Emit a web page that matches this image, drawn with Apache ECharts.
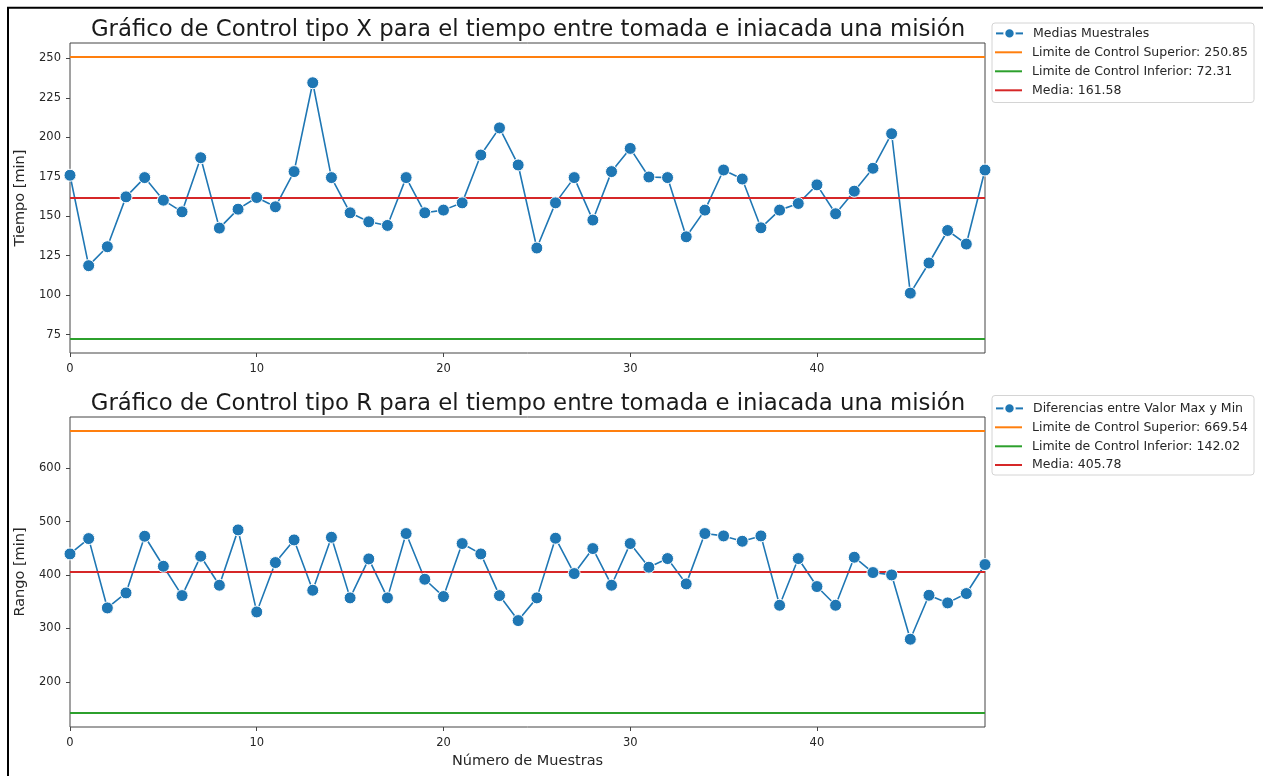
<!DOCTYPE html>
<html>
<head>
<meta charset="utf-8">
<script src="https://cdn.jsdelivr.net/npm/echarts@6/dist/echarts.min.js"></script>
<style>
  html, body { margin: 0; padding: 0; background: #fff; }
  #chart { width: 1263px; height: 776px; }
</style>
</head>
<body>
<div id="chart"></div>
<script>
// Sample index (0..49)
const muestras = Array.from({ length: 50 }, (_, i) => i);

// X-bar chart: sample means
const mediasMuestrales = [
  176.0, 118.7, 130.7, 162.3, 174.5, 160.2, 152.8, 187.1, 142.5, 154.5,
  161.9, 156.0, 178.3, 234.6, 174.5, 152.2, 146.5, 144.2, 174.5, 152.2,
  153.9, 158.5, 188.8, 206.0, 182.5, 129.9, 158.5, 174.5, 147.6, 178.3,
  193.0, 174.9, 174.5, 137.0, 153.9, 179.3, 173.6, 142.7, 153.9, 158.1,
  169.9, 151.6, 165.9, 180.4, 202.3, 101.3, 120.4, 141.0, 132.4, 179.3
];
const limitesX = { superior: 250.85, inferior: 72.31, media: 161.58 };

// R chart: max - min per sample
const rangos = [
  439.6, 468.3, 338.5, 366.6, 472.7, 416.5, 361.6, 435.3, 381.0, 484.6,
  331.0, 423.4, 465.8, 371.6, 470.8, 357.3, 430.3, 357.3, 477.7, 392.2,
  359.8, 459.0, 439.6, 361.6, 314.8, 357.3, 469.0, 402.8, 449.6, 381.0,
  459.0, 414.7, 430.9, 383.5, 477.7, 473.3, 463.3, 473.3, 343.5, 430.9,
  378.5, 343.5, 433.4, 404.7, 400.3, 279.9, 362.2, 347.9, 365.4, 419.7
];
const limitesR = { superior: 669.54, inferior: 142.02, media: 405.78 };

// Tick labels
const xTicks = [0, 10, 20, 30, 40];
const yTicksX = [75, 100, 125, 150, 175, 200, 225, 250];
const yTicksR = [200, 300, 400, 500, 600];

const COLORS = { datos: '#1f77b4', sup: '#ff7f0e', inf: '#2ca02c', media: '#d62728' };
const FONT = 'DejaVu Sans';
const TEXT = '#262626';

const pairs = vals => muestras.map(i => [i, vals[i]]);
const constant = v => muestras.map(i => [i, v]);

function dataSeries(name, vals, idx) {
  return {
    name, type: 'line', xAxisIndex: idx, yAxisIndex: idx,
    data: pairs(vals),
    symbol: 'circle', symbolSize: 12,
    lineStyle: { color: COLORS.datos, width: 1.6 },
    itemStyle: { color: COLORS.datos, borderColor: '#ffffff', borderWidth: 1 },
    animation: false
  };
}
function limitSeries(name, value, color, idx) {
  return {
    name, type: 'line', xAxisIndex: idx, yAxisIndex: idx,
    data: constant(value), symbol: 'none',
    lineStyle: { color, width: 2 },
    itemStyle: { color },
    animation: false
  };
}

const fmt = v => v.toFixed(2);
const nx = {
  datos: 'Medias Muestrales',
  sup: 'Limite de Control Superior: ' + fmt(limitesX.superior),
  inf: 'Limite de Control Inferior: ' + fmt(limitesX.inferior),
  med: 'Media: ' + fmt(limitesX.media)
};
const nr = {
  datos: 'Diferencias entre Valor Max y Min',
  sup: 'Limite de Control Superior: ' + fmt(limitesR.superior),
  inf: 'Limite de Control Inferior: ' + fmt(limitesR.inferior),
  med: 'Media: ' + fmt(limitesR.media)
};

function xAxis(idx, withName) {
  return {
    type: 'value', gridIndex: idx, min: 0, max: 49, interval: 10,
    name: withName ? 'Número de Muestras' : '',
    nameLocation: 'middle', nameGap: 27,
    nameTextStyle: { fontFamily: FONT, fontSize: 14.5, color: TEXT },
    axisLine: { show: false },
    axisTick: { show: true, inside: false, length: 4, lineStyle: { color: '#444' },
      customValues: xTicks },
    axisLabel: { fontFamily: FONT, fontSize: 11.5, color: TEXT, margin: 10.5,
      customValues: xTicks },
    splitLine: { show: false }
  };
}
function yAxis(idx, name, min, max, ticks) {
  return {
    type: 'value', gridIndex: idx, min, max,
    name, nameLocation: 'middle', nameGap: 32,
    nameTextStyle: { fontFamily: FONT, fontSize: 14.5, color: TEXT },
    axisLine: { show: false },
    axisTick: { show: true, inside: false, length: 4, lineStyle: { color: '#444' },
      customValues: ticks },
    axisLabel: { fontFamily: FONT, fontSize: 11.5, color: TEXT, margin: 9,
      customValues: ticks },
    splitLine: { show: false }
  };
}

// One legend entry per component so line-only entries can use a thin bar icon
function legendEntry(name, centerY, isData) {
  const h = isData ? 13 : 2;
  const entry = {
    orient: 'vertical', left: 995, top: centerY - (isData ? 4.8 : 4.5),
    data: [name],
    itemWidth: 27, itemHeight: h,
    padding: 0,
    textStyle: { fontFamily: FONT, fontSize: 12.5, color: TEXT, padding: [0, 0, 0, 5] },
    selectedMode: false
  };
  if (!isData) entry.icon = 'rect';
  return entry;
}
function legendBox(top, height) {
  return { type: 'rect', left: 991.5, top, shape: { width: 262, height, r: 3 },
    style: { fill: '#ffffff', stroke: '#d4d4d4', lineWidth: 1 }, silent: true, z: -1 };
}

const chart = echarts.init(document.getElementById('chart'), null, { renderer: 'canvas' });
chart.setOption({
  animation: false,
  backgroundColor: '#ffffff',
  title: [
    { text: 'Gráfico de Control tipo X para el tiempo entre tomada e iniacada una misión',
      left: 523, top: 14, textAlign: 'center',
      textStyle: { fontFamily: FONT, fontSize: 22.8, fontWeight: 'normal', color: '#1a1a1a' } },
    { text: 'Gráfico de Control tipo R para el tiempo entre tomada e iniacada una misión',
      left: 523, top: 388, textAlign: 'center',
      textStyle: { fontFamily: FONT, fontSize: 22.8, fontWeight: 'normal', color: '#1a1a1a' } }
  ],
  graphic: [
    legendBox(22.5, 79.5),
    legendBox(395, 79.5),
    { type: 'rect', left: 5.5, top: 5.3, shape: { width: 1300, height: 800 },
      style: { fill: 'none', stroke: '#000', lineWidth: 2 }, silent: true, z: 100 }
  ],
  legend: [
    legendEntry(nx.datos, 31.7, true),
    legendEntry(nx.sup, 50.3, false),
    legendEntry(nx.inf, 69.3, false),
    legendEntry(nx.med, 88.3, false),
    legendEntry(nr.datos, 406.7, true),
    legendEntry(nr.sup, 425.3, false),
    legendEntry(nr.inf, 444.3, false),
    legendEntry(nr.med, 463.0, false)
  ],
  grid: [
    { left: 70, top: 43, width: 915, height: 310, show: true, borderColor: '#444', borderWidth: 1,
      backgroundColor: '#fff', outerBoundsMode: 'none' },
    { left: 70, top: 417, width: 915, height: 310, show: true, borderColor: '#444', borderWidth: 1,
      backgroundColor: '#fff', outerBoundsMode: 'none' }
  ],
  xAxis: [xAxis(0, false), xAxis(1, true)],
  yAxis: [
    yAxis(0, 'Tiempo [min]', 63.38, 259.78, yTicksX),
    yAxis(1, 'Rango [min]', 115.6, 695.9, yTicksR)
  ],
  series: [
    dataSeries(nx.datos, mediasMuestrales, 0),
    limitSeries(nx.sup, limitesX.superior, COLORS.sup, 0),
    limitSeries(nx.inf, limitesX.inferior, COLORS.inf, 0),
    limitSeries(nx.med, limitesX.media, COLORS.media, 0),
    dataSeries(nr.datos, rangos, 1),
    limitSeries(nr.sup, limitesR.superior, COLORS.sup, 1),
    limitSeries(nr.inf, limitesR.inferior, COLORS.inf, 1),
    limitSeries(nr.med, limitesR.media, COLORS.media, 1)
  ]
});
</script>
</body>
</html>
